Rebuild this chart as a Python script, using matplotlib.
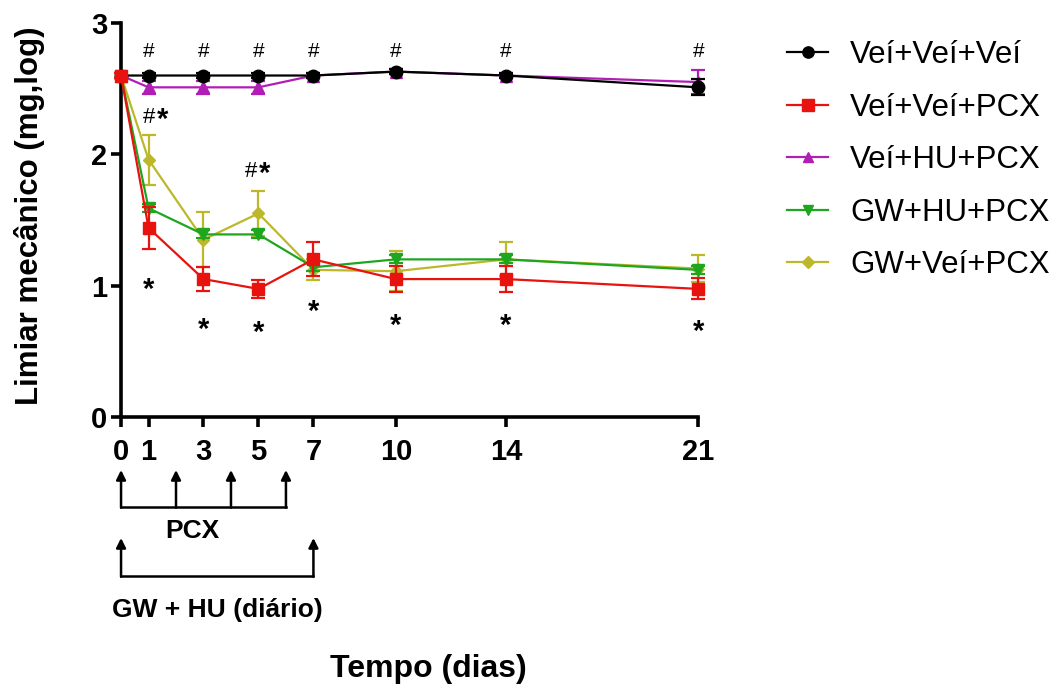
import matplotlib
matplotlib.use("Agg")
import matplotlib.pyplot as plt
from matplotlib.lines import Line2D
from matplotlib.transforms import blended_transform_factory

plt.rcParams['font.family'] = ['Liberation Sans', 'DejaVu Sans']

days = [0, 1, 3, 5, 7, 10, 14, 21]
series_names = ['Veí+Veí+Veí', 'Veí+Veí+PCX', 'Veí+HU+PCX', 'GW+HU+PCX', 'GW+Veí+PCX']
veh_veh_veh = [2.60, 2.60, 2.60, 2.60, 2.60, 2.63, 2.60, 2.51]
veh_veh_veh_err = [0.02, 0.02, 0.02, 0.02, 0.02, 0.02, 0.02, 0.06]
veh_veh_pcx = [2.60, 1.44, 1.05, 0.975, 1.20, 1.05, 1.05, 0.975]
veh_veh_pcx_err = [0.02, 0.16, 0.09, 0.07, 0.13, 0.10, 0.10, 0.08]
veh_hu_pcx = [2.60, 2.51, 2.51, 2.51, 2.60, 2.63, 2.60, 2.55]
veh_hu_pcx_err = [0.02, 0.05, 0.05, 0.05, 0.02, 0.02, 0.02, 0.09]
gw_hu_pcx = [2.60, 1.59, 1.39, 1.39, 1.14, 1.20, 1.20, 1.12]
gw_hu_pcx_err = [0.02, 0.03, 0.03, 0.03, 0.03, 0.03, 0.03, 0.03]
gw_veh_pcx = [2.60, 1.96, 1.35, 1.55, 1.12, 1.11, 1.20, 1.13]
gw_veh_pcx_err = [0.02, 0.19, 0.21, 0.17, 0.08, 0.15, 0.13, 0.10]

hash_days = [1, 3, 5, 7, 10, 14, 21]
hash_y = 2.78
hashstar_x = [1.3, 5.0]
hashstar_y = [2.28, 1.87]
star_days = [1, 3, 5, 7, 10, 14, 21]
star_y = [0.97, 0.66, 0.64, 0.80, 0.69, 0.69, 0.65]

pcx_arrow_days = [0, 2, 4, 6]
gwhu_arrow_days = [0, 7]

fig = plt.figure(figsize=(10.59, 6.84), dpi=100)
ax = fig.add_axes([0.1143, 0.3904, 0.5450, 0.5760])

styles = [
    (veh_veh_veh, veh_veh_veh_err, 'black', 'o', 9),
    (veh_veh_pcx, veh_veh_pcx_err, '#e8120f', 's', 9),
    (veh_hu_pcx, veh_hu_pcx_err, '#b21eb5', '^', 8),
    (gw_hu_pcx, gw_hu_pcx_err, '#1fa61f', 'v', 8),
    (gw_veh_pcx, gw_veh_pcx_err, '#bdb82a', 'D', 6.5),
]
order = [4, 3, 2, 0, 1]
for z, i in enumerate(order):
    vals, err, col, mk, ms = styles[i]
    eb = ax.errorbar(days, vals, yerr=err, color=col, marker=mk, markersize=ms,
                     linewidth=1.6, elinewidth=1.6, capsize=5, capthick=1.6,
                     clip_on=False, zorder=3 + z)
    for art in eb.lines[1] + eb.lines[2]:
        art.set_clip_on(False)

handles = [Line2D([], [], color=c, marker=m, markersize=ms * 0.9, linewidth=1.6)
           for (_, _, c, m, ms) in styles]

ax.set_xlim(0, 21)
ax.set_ylim(0, 3)
ax.set_xticks(days)
ax.set_yticks([0, 1, 2, 3])
for s in ['top', 'right']:
    ax.spines[s].set_visible(False)
for s in ['left', 'bottom']:
    ax.spines[s].set_linewidth(2.6)
ax.tick_params(width=2.6, length=7, labelsize=21)
ax.tick_params(axis='x', pad=8)
ax.tick_params(axis='y', pad=3)
for lab in ax.get_xticklabels() + ax.get_yticklabels():
    lab.set_fontweight('bold')
ax.set_ylabel('Limiar mecânico (mg,log)', fontsize=22.5, fontweight='bold')
ax.yaxis.set_label_coords(-0.132, 0.51)

for d in hash_days:
    ax.text(d, hash_y, '#', ha='center', va='center', fontsize=15)
for d, y in zip(hashstar_x, hashstar_y):
    ax.text(d - 0.05, y, '#', ha='right', va='center', fontsize=16)
    ax.text(d + 0.02, y - 0.02, '*', ha='left', va='center', fontsize=21,
            fontweight='bold')
for d, y in zip(star_days, star_y):
    ax.text(d, y, '*', ha='center', va='center', fontsize=21, fontweight='bold')

# treatment schedule under the x axis
tr = blended_transform_factory(ax.transData, fig.transFigure)
def fy(py):
    return 1 - py / 684

def schedule(xs, tip, base):
    ax.plot([xs[0], xs[-1]], [fy(base), fy(base)], color='black', lw=1.8,
            transform=tr, clip_on=False)
    for x in xs:
        ax.annotate('', xy=(x, fy(tip)), xytext=(x, fy(base) - 0.001),
                    xycoords=tr, textcoords=tr, annotation_clip=False,
                    arrowprops=dict(arrowstyle='-|>', color='black', lw=1.8,
                                    mutation_scale=14, shrinkA=0, shrinkB=0))

schedule(pcx_arrow_days, 470, 507)
schedule(gwhu_arrow_days, 538, 576)
ax.text(2.6, fy(531), 'PCX', transform=tr, ha='center', va='center',
        fontsize=19, fontweight='bold')
ax.text(3.5, fy(610), 'GW + HU (diário)', transform=tr, ha='center', va='center',
        fontsize=19, fontweight='bold')
fig.text(428 / 1059, fy(669), 'Tempo (dias)', ha='center', va='center',
         fontsize=23, fontweight='bold')

fig.legend(handles, series_names, loc='upper left', bbox_to_anchor=(0.717, 0.982),
           frameon=False, fontsize=22.5, handlelength=1.3, handletextpad=0.7,
           labelspacing=0.72)

fig.savefig('out.png', dpi=100)
